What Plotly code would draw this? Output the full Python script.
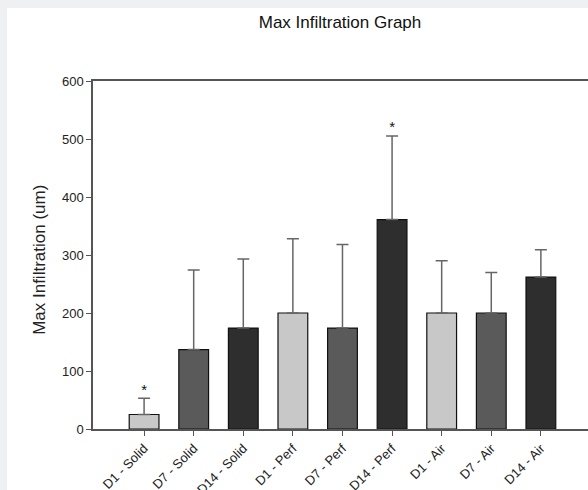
import plotly.graph_objects as go

categories = ["D1 - Solid", "D7 - Solid", "D14 - Solid", "D1 - Perf", "D7 - Perf",
              "D14 - Perf", "D1 - Air", "D7 - Air", "D14 - Air"]
means = [25, 137, 174, 200, 174, 361, 200, 200, 262]
upper = [53, 274, 293, 328, 318, 505, 290, 270, 309]
significant = [True, False, False, False, False, True, False, False, False]
y_ticks = [0, 100, 200, 300, 400, 500, 600]

palette = ["#c8c8c8", "#5a5a5a", "#2e2e2e"]
colors = [palette[i % 3] for i in range(len(categories))]
errs = [u - m for u, m in zip(upper, means)]
xs = list(range(len(categories)))

fig = go.Figure()
fig.add_trace(go.Bar(
    x=xs, y=means, width=0.6,
    marker=dict(color=colors, line=dict(color="#111111", width=1.2)),
    error_y=dict(type="data", symmetric=False, array=errs,
                 arrayminus=[0] * len(errs), color="#666666",
                 thickness=1.5, width=6),
    showlegend=False,
))
sx = [x for x, s in zip(xs, significant) if s]
sy = [u for u, s in zip(upper, significant) if s]
fig.add_trace(go.Scatter(
    x=sx, y=sy, mode="text", text=["*"] * len(sx),
    textposition="top center",
    textfont=dict(family="Arial", size=15, color="#111111"),
    showlegend=False, hoverinfo="skip",
))

W, H = 588, 490
L, R, T, B = 93, 0, 81, 61
pw, ph = W - L - R, H - T - B

# white card (the page frame around it is light grey)
fig.add_shape(type="rect", xref="paper", yref="paper", layer="below",
              x0=(7 - L) / pw, x1=1.2, y0=-0.5, y1=(H - B - 8) / ph,
              fillcolor="white", line=dict(width=0))

fig.add_annotation(
    text="Max Infiltration (um)", xref="paper", yref="paper",
    x=(40 - L) / pw, y=0.486, xanchor="center", yanchor="middle",
    textangle=-90, showarrow=False,
    font=dict(family="Arial", size=17, color="#222222"),
)

fig.update_layout(
    width=W, height=H,
    margin=dict(l=L, r=R, t=T, b=B),
    paper_bgcolor="#eff0f2", plot_bgcolor="white",
    font=dict(family="Arial", color="#222222"),
    title=dict(text="Max Infiltration Graph", x=340 / W, xanchor="center",
               y=1 - 22 / H, yanchor="middle",
               font=dict(family="Arial", size=17, color="#111111")),
)
fig.update_xaxes(
    range=[-1.03, 8.95], tickmode="array", tickvals=xs, ticktext=categories,
    tickangle=-45, ticks="outside", ticklen=5, tickcolor="#555555",
    showline=True, linecolor="#555555", linewidth=1.5, mirror=True,
    showgrid=False, zeroline=False, automargin=False,
    tickfont=dict(size=13, color="#222222"),
)
fig.update_yaxes(
    range=[0, 600], tickmode="array", tickvals=y_ticks,
    ticks="outside", ticklen=5, tickcolor="#555555",
    showline=True, linecolor="#555555", linewidth=1.5, mirror=False,
    showgrid=False, zeroline=False, automargin=False,
    tickfont=dict(size=13, color="#222222"),
)
fig.write_html(
    "out.html",
    config={"displayModeBar": False},
    post_script=("document.body.style.background='#eff0f2';"
                 "document.body.style.margin='0';"
                 "document.body.style.overflow='hidden';"),
)
